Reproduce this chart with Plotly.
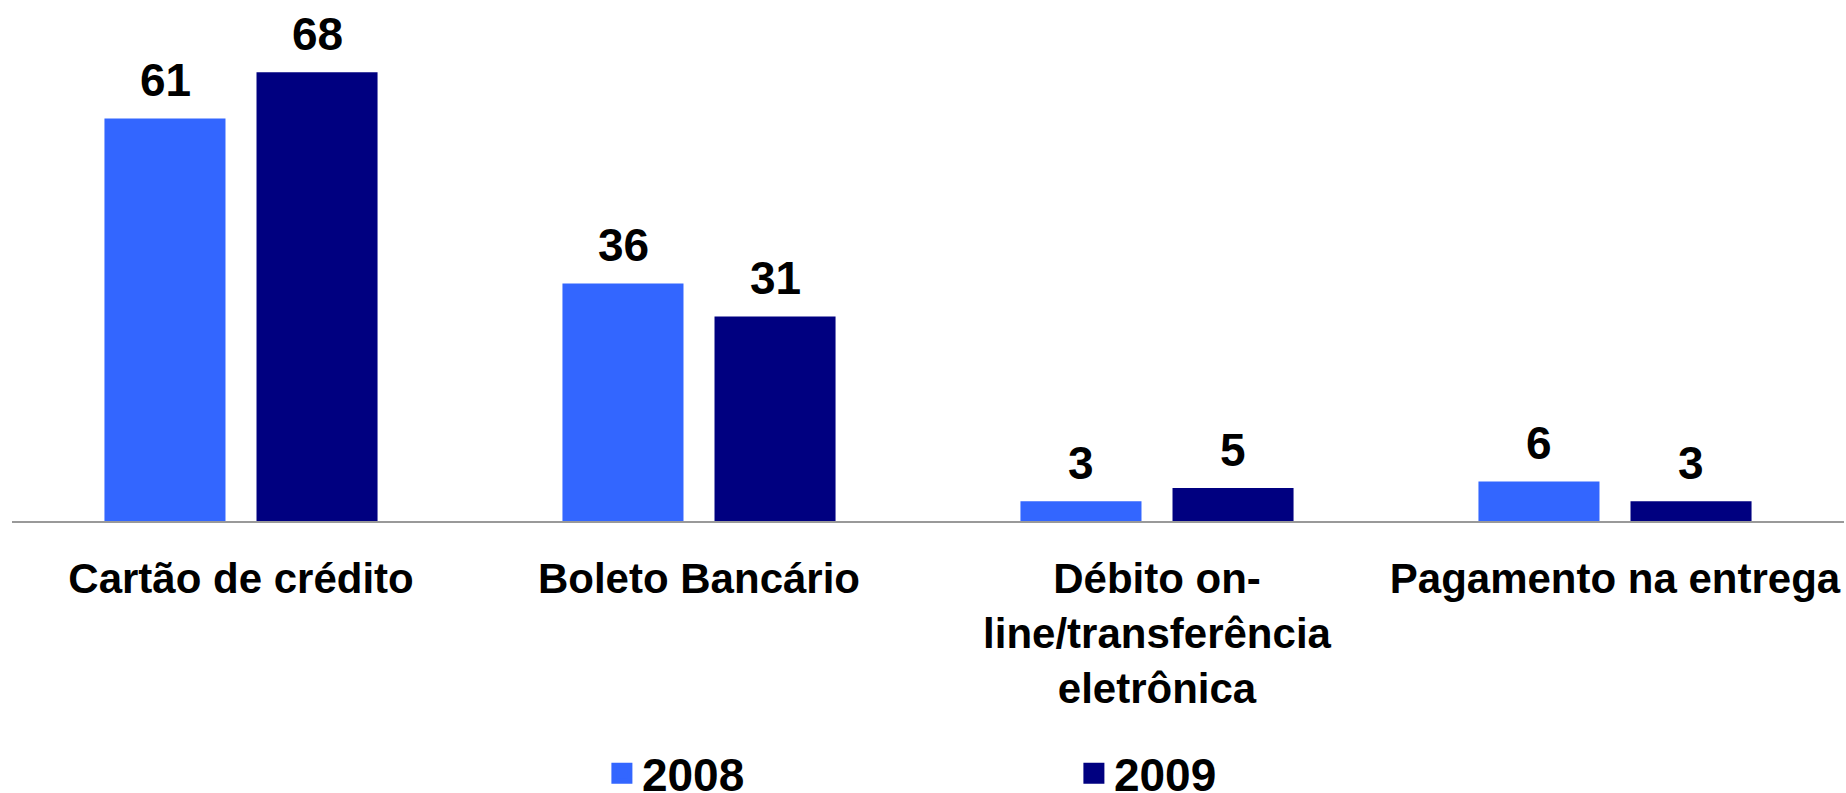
import plotly.graph_objects as go

categories = ["Cartão de crédito", "Boleto Bancário",
              "Débito on-<br>line/transferência<br>eletrônica", "Pagamento na entrega"]
years = ["2008", "2009"]
values_2008 = [61, 36, 3, 6]
values_2009 = [68, 31, 5, 3]
colors = {"2008": "#3366FF", "2009": "#000080"}

FONT = "Liberation Sans, Arial, sans-serif"

fig = go.Figure()
series = {"2008": values_2008, "2009": values_2009}
for yr in years:
    fig.add_trace(go.Bar(
        x=categories, y=series[yr], name=yr,
        marker=dict(color=colors[yr], line=dict(width=0)),
        showlegend=False,
    ))
    # legend entry (larger square symbol)
    fig.add_trace(go.Scatter(
        x=[None], y=[None], mode="markers", name=yr,
        marker=dict(symbol="square", size=16, color=colors[yr],
                    line=dict(width=5, color=colors[yr])),
        showlegend=True,
    ))

# value labels above bars
shifts = {"2008": -76, "2009": 76}
for yr in years:
    for c, v in zip(categories, series[yr]):
        fig.add_annotation(
            x=c, y=v, xref="x", yref="y", text=str(v), showarrow=False,
            xshift=shifts[yr], yanchor="bottom", yshift=10,
            font=dict(family=FONT, size=46, color="black", weight="bold"),
        )

fig.update_layout(
    width=1846, height=793,
    margin=dict(l=12, r=2, t=26, b=272, autoexpand=False),
    paper_bgcolor="white", plot_bgcolor="white",
    barmode="group", bargap=0.336, bargroupgap=0.204,
    legend=dict(orientation="h", x=0.322, xanchor="left", y=-0.51, yanchor="middle",
                entrywidth=427, entrywidthmode="pixels", itemsizing="trace",
                font=dict(family=FONT, size=46, color="black", weight="bold"),
                bgcolor="rgba(0,0,0,0)"),
    xaxis=dict(showline=True, linecolor="#999999", linewidth=2, showgrid=False,
               ticks="", ticklabelstandoff=20,
               tickfont=dict(family=FONT, size=42, color="black", weight="bold")),
    yaxis=dict(range=[0, 75], visible=False, showgrid=False, zeroline=False),
)

fig.write_html("out.html", config={"displayModeBar": False},
               post_script="document.body.style.margin='0';document.body.style.overflow='hidden';")
